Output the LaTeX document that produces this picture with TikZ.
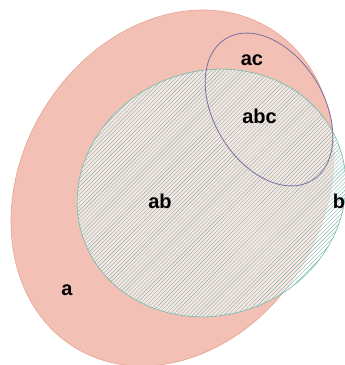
\documentclass[tikz,border=0pt]{standalone}
\usepackage{fontspec}
\setmainfont{Liberation Sans}
\usetikzlibrary{shapes.geometric,patterns.meta}
\definecolor{afill}{HTML}{F2C0B5}
\definecolor{aline}{HTML}{E8A292}
\definecolor{bline}{HTML}{6DBDAE}
\definecolor{bhatch}{HTML}{7DB3A8}
\definecolor{cline}{HTML}{7B6FA2}
\tikzset{
	setA/.style={
		ellipse,
		fill=afill,
		draw=aline, semithick,
		inner sep=0pt},
	setB/.style={
		ellipse,
		fill=white, fill opacity=.6,
		draw=bline, semithick,
		inner sep=0pt,
		postaction={pattern={Lines[angle=45,distance=2.8pt,line width=.4pt]},
			pattern color=bhatch, fill opacity=.45}},
	setC/.style={
		ellipse,
		draw=cline, thick,
		inner sep=0pt},
	lbl/.style={
		anchor=base,
		font=\fontsize{20}{24}\selectfont\bfseries},
}

\begin{document}
\begin{tikzpicture}
	[x=1pt, y=1pt]
\useasboundingbox (0,0) rectangle (345,365);

\node[setA, minimum width=374pt, minimum height=302pt, rotate=58.7] (A) at (172.5,177) {};
\node[setB, minimum width=272pt, minimum height=244pt, rotate=20.7] (B) at (211.5,172) {};
\node[setC, minimum width=110pt, minimum height=166pt, rotate=31.4] (C) at (269,255.5) {};

\node[lbl] (la) at (67,70) {a};
\node[lbl] (lab) at (160,157) {ab};
\node[lbl] (lb) at (339,157) {b};
\node[lbl] (lac) at (252,299) {ac};
\node[lbl] (labc) at (259.5,241) {abc};
\end{tikzpicture}
\end{document}
